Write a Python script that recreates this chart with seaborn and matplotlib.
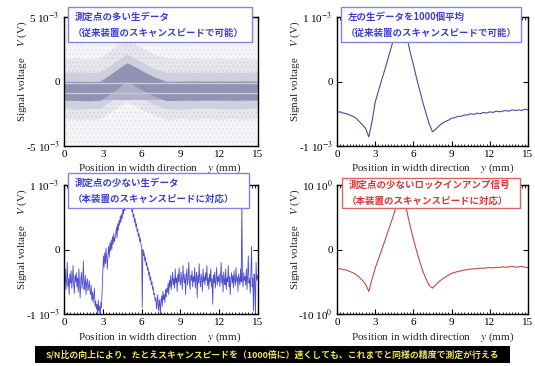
import matplotlib
matplotlib.use("Agg")
import matplotlib.pyplot as plt
import seaborn as sns
from matplotlib.patches import Rectangle
from matplotlib.ticker import MultipleLocator

# ---- data ----
x_ticks = [0, 3, 6, 9, 12, 15]

# top-left: dense raw cloud, envelopes in 1e-3 V
tl_x = [0, 1, 2, 2.8, 3.5, 4.2, 4.85, 5.5, 6.2, 7.0, 7.9, 9, 10, 11, 12, 13, 14, 15]
tl_core_hi = [0.02, 0.03, 0.0, 0.03, 0.5, 1.0, 1.45, 1.15, 0.75, 0.35, 0.02, 0.03, 0.05, 0.03, 0.04, 0.03, 0.05, 0.03]
tl_core_lo = [-1.45, -1.47, -1.5, -1.45, -1.0, -0.5, 0.0, -0.35, -0.75, -1.15, -1.48, -1.45, -1.46, -1.44, -1.45, -1.46, -1.44, -1.45]
tl_mid_hi = [0.7, 0.75, 0.7, 0.75, 1.2, 1.7, 2.1, 1.8, 1.4, 1.0, 0.7, 0.75, 0.7, 0.75, 0.7, 0.75, 0.7, 0.75]
tl_mid_lo = [-2.1, -2.15, -2.1, -2.05, -1.6, -1.1, -0.7, -1.0, -1.4, -1.8, -2.1, -2.15, -2.1, -2.05, -2.1, -2.15, -2.1, -2.05]
tl_cloud_hi = [1.7, 1.8, 1.7, 1.8, 2.3, 2.8, 3.2, 2.9, 2.5, 2.1, 1.8, 1.7, 1.8, 1.7, 1.8, 1.7, 1.8, 1.7]
tl_cloud_lo = [-2.9, -3.0, -3.0, -2.9, -2.5, -2.0, -1.6, -1.9, -2.3, -2.6, -3.0, -2.9, -3.0, -2.9, -3.0, -2.9, -3.0, -2.9]
tl_base_x = [0, 15]
tl_base_hi = [0.0, 0.0]
tl_base_lo = [-1.45, -1.45]
tl_stripes = [-0.9, -0.15]

# top-right: averaged data, 1e-3 V, x step 0.25 mm
tr_x = [i * 0.25 for i in range(61)]
tr_y = [-0.48, -0.47, -0.49, -0.50, -0.52, -0.54, -0.57, -0.62, -0.67, -0.73,
        -0.86, -0.62, -0.32, -0.15, 0.02, 0.18, 0.35, 0.52, 0.70, 0.88,
        1.02, 0.85, 0.68, 0.45, 0.26, 0.05, -0.14, -0.33, -0.50, -0.66,
        -0.78, -0.74, -0.69, -0.65, -0.62, -0.60, -0.57, -0.56, -0.54, -0.54,
        -0.52, -0.52, -0.50, -0.51, -0.49, -0.50, -0.48, -0.49, -0.47, -0.48,
        -0.46, -0.47, -0.46, -0.45, -0.46, -0.44, -0.45, -0.44, -0.45, -0.43,
        -0.44]

# bottom-left: sparse raw data, 1e-3 V, x step 0.05 mm
bl_x = [i * 0.05 for i in range(301)]
bl_y = [
    -0.42, -0.55, -0.30, -0.62, -0.48, -0.20, -0.58, -0.45, -0.70, -0.38, -0.52, -0.33, -0.60, -0.47, -0.25, -0.55, -0.68, -0.40, -0.50, -0.36,
    -0.58, -0.44, -0.66, -0.30, -0.52, -0.75, -0.46, -0.35, -0.60, -0.49, -0.18, -0.62, -0.55, -0.40, -0.70, -0.52, -0.45, -0.64, -0.58, -0.48,
    -0.62, -0.70, -0.55, -0.78, -0.66, -0.82, -0.72, -0.60, -0.88, -0.80, -0.92, -0.85, -1.05, -0.78, -0.95, -0.88, -1.10, -0.82, -0.90, -0.60,
    -0.35, -0.10, -0.28, -0.05, -0.22, 0.02, -0.15, -0.30, -0.08, 0.05, -0.12, 0.10, -0.02, 0.15, 0.00, 0.20, 0.08, 0.25, 0.12, 0.18,
    0.22, 0.35, 0.18, 0.40, 0.30, 0.45, 0.38, 0.52, 0.42, 0.55, 0.48, 0.62, 0.55, 0.70, 0.60, 0.75, 0.68, 0.82, 0.72, 0.85,
    0.80, 0.72, 0.78, 0.65, 0.70, 0.58, 0.62, 0.50, 0.55, 0.42, 0.48, 0.35, 0.40, 0.28, 0.32, 0.20, 0.25, 0.12, 0.18, 0.08,
    0.05, -0.90, 0.00, -0.10, -0.05, -0.18, -0.12, -0.25, -0.20, -0.32, -0.28, -0.40, -0.35, -0.48, -0.42, -0.55, -0.50, -0.62, -0.58, -0.70,
    -0.68, -0.80, -0.75, -0.92, -0.82, -0.70, -0.95, -0.85, -0.78, -1.05, -0.80, -0.72, -0.88, -0.65, -0.78, -0.70, -0.82, -0.62, -0.74, -0.60,
    -0.66, -0.52, -0.70, -0.48, -0.58, -0.40, -0.62, -0.50, -0.35, -0.55, -0.45, -0.60, -0.30, -0.52, -0.44, -0.65, -0.38, -0.50, -0.28, -0.48,
    -0.55, -0.35, -0.48, -0.62, -0.25, -0.45, -0.52, -0.38, -0.70, -0.42, -0.30, -0.55, -0.46, -0.20, -0.50, -0.62, -0.40, -0.48, -0.33, -0.58,
    -0.42, -0.50, -0.28, -0.60, -0.45, -0.35, -0.75, -0.40, -0.52, -0.22, -0.48, -0.58, -0.38, -0.46, -0.65, -0.30, -0.50, -0.42, -0.55, -0.36,
    -0.48, -0.25, -0.56, -0.44, -0.62, -0.38, -0.50, -0.30, -0.58, -0.45, -0.85, -0.40, -0.52, -0.35, -0.60, -0.47, -0.28, -0.55, -0.42, -0.50,
    -0.38, -0.58, -0.45, -0.20, -0.52, -0.40, -0.66, -0.35, -0.48, -0.55, -0.30, -0.62, -0.44, -0.50, -0.25, -0.58, -0.42, -0.70, -0.46, -0.36,
    -0.52, -0.40, -0.60, -0.33, -0.48, -0.56, -0.28, -0.50, -0.42, -0.65, -0.38, -0.46, -0.55, -0.30, -0.50, 0.75, -0.45, -0.58, -0.36, -0.48,
    -0.42, -0.55, -0.30, -0.62, -0.40, -0.10, -0.52, -0.45, -0.68, -0.35, 0.05, -0.58, -0.44, -0.95, -0.38, -0.50, -1.05, -0.20, -0.48, -0.40,
    -0.45,
]

# bottom-right: lock-in amplifier output, x step 0.25 mm
br_x = [i * 0.25 for i in range(61)]
br_y = [-3.0, -3.0, -3.1, -3.2, -3.4, -3.6, -3.9, -4.3, -4.8, -5.4,
        -6.5, -4.6, -2.9, -1.5, -0.1, 1.3, 2.8, 4.2, 5.7, 7.3,
        9.0, 7.6, 5.8, 3.6, 1.6, -0.2, -1.9, -3.4, -4.6, -5.6,
        -6.0, -5.5, -5.0, -4.6, -4.3, -4.0, -3.7, -3.55, -3.4, -3.3,
        -3.2, -3.1, -3.05, -3.0, -2.95, -2.9, -2.9, -2.85, -2.8, -2.85,
        -2.75, -2.8, -2.7, -2.75, -2.7, -2.6, -2.75, -2.7, -2.6, -2.75,
        -2.8]

tl_yticklabels = [r"-5 10$^{-3}$", "0", r"5 10$^{-3}$"]
tr_yticklabels = [r"-1 10$^{-3}$", "0", r"1 10$^{-3}$"]
bl_yticklabels = [r"-1 10$^{-3}$", "0", r"1 10$^{-3}$"]
br_yticklabels = [r"-10 10$^{0}$", "0", r"10 10$^{0}$"]

boxes = [
    ("測定点の多い生データ", "（従来装置のスキャンスピードで可能）"),
    ("左の生データを1000個平均", "（従来装置のスキャンスピードで可能）"),
    ("測定点の少ない生データ", "（本装置のスキャンスピードに対応）"),
    ("測定点の少ないロックインアンプ信号", "（本装置のスキャンスピードに対応）"),
]
banner = "S/N比の向上により、たとえスキャンスピードを（1000倍に）速くしても、これまでと同様の精度で測定が行える"

# ---- style ----
sns.set_style("ticks")
plt.rcParams["font.family"] = ["Liberation Serif", "DejaVu Serif"]
plt.rcParams["mathtext.fontset"] = "stix"
plt.rcParams["hatch.linewidth"] = 0.5
cjk = ["Noto Sans CJK JP", "DejaVu Sans"]

W, H = 535, 366
fig = plt.figure(figsize=(W / 100, H / 100), dpi=100)
fig.patch.set_facecolor("white")


def axes_px(left, top, right, bottom):
    return fig.add_axes([left / W, 1 - bottom / H, (right - left) / W, (bottom - top) / H])


def fx(x):
    return x / W


def fy(y):
    return 1 - y / H


def style_axes(ax, ylim, labels):
    ax.set_xlim(0, 15)
    ax.set_ylim(*ylim)
    ax.set_xticks(x_ticks)
    ax.set_xticklabels([str(t) for t in x_ticks])
    ax.set_yticks([ylim[0], 0, ylim[1]])
    ax.set_yticklabels(labels)
    ax.xaxis.set_minor_locator(MultipleLocator(0.25))
    ax.tick_params(which="major", direction="in", top=True, right=True,
                   length=3.5, width=0.8, labelsize=8, pad=3, colors="black")
    ax.tick_params(which="minor", direction="in", top=True, right=False, left=False,
                   length=1.8, width=0.7)
    for s in ax.spines.values():
        s.set_linewidth(1.0)
        s.set_color("black")
    ax.set_xlabel("")
    ax.set_ylabel("")


RIGHT = 528

# top-left
ax1 = axes_px(64, 17, 258, 146)
ax1.fill_between([0, 15], [-5, -5], [5, 5], facecolor="#f5f5f7", edgecolor="#e0e0e6",
                 hatch="....", linewidth=0)
ax1.fill_between(tl_x, tl_cloud_lo, tl_cloud_hi, facecolor="#e6e6ec", edgecolor="#d0d0da",
                 hatch="....", linewidth=0)
ax1.fill_between(tl_x, tl_mid_lo, tl_mid_hi, facecolor="#cfcfdd", linewidth=0)
ax1.fill_between(tl_base_x, tl_base_lo, tl_base_hi, facecolor="#b0b0c8", linewidth=0)
ax1.fill_between(tl_x, tl_core_lo, tl_core_hi, facecolor="#9292b4", linewidth=0)
for s in tl_stripes:
    ax1.axhline(s, color="#c8c8dc", lw=1.0)
style_axes(ax1, (-5, 5), tl_yticklabels)

# top-right
ax2 = axes_px(337, 17, RIGHT, 146)
sns.lineplot(x=tr_x, y=tr_y, ax=ax2, color="#4a4aa0", linewidth=0.8, estimator=None)
style_axes(ax2, (-1, 1), tr_yticklabels)

# bottom-left
ax3 = axes_px(64, 185, 258, 314)
sns.lineplot(x=bl_x, y=bl_y, ax=ax3, color="#2e2ec4", linewidth=0.6, alpha=0.85, estimator=None)
style_axes(ax3, (-1, 1), bl_yticklabels)

# bottom-right
ax4 = axes_px(337, 185, RIGHT, 314)
sns.lineplot(x=br_x, y=br_y, ax=ax4, color="#c84848", linewidth=0.8, estimator=None)
style_axes(ax4, (-10, 10), br_yticklabels)

# axis titles as figure text
for (cx, cy) in [(22, 71), (295, 71), (22, 239), (295, 239)]:
    fig.text(fx(cx), fy(cy), r"Signal voltage    $V$ (V)", rotation=90,
             ha="center", va="center", fontsize=8)
for (cx, cy) in [(160, 168), (433, 168), (160, 337), (433, 337)]:
    fig.text(fx(cx), fy(cy), r"Position in width direction    $y$ (mm)",
             ha="center", va="center", fontsize=8)

# annotation boxes
box_geom = [(68, 7, 252, 42), (341, 7, 521, 42), (68, 173, 249, 208), (342, 178, 520, 208)]
box_edge = ["#8484e0", "#8484e0", "#8484e0", "#e06464"]
box_text = ["#3c3cd4", "#3c3cd4", "#3c3cd4", "#d83434"]
for (l, t, r, b), (l1, l2), ec, tc in zip(box_geom, boxes, box_edge, box_text):
    fig.patches.append(Rectangle((fx(l), fy(b)), (r - l) / W, (b - t) / H,
                                 transform=fig.transFigure, facecolor="white",
                                 edgecolor=ec, linewidth=1.0, zorder=5))
    ym = (t + b) / 2
    fig.text(fx(l + 7), fy(ym - 8), l1, family=cjk, fontsize=6.8, fontweight="bold",
             color=tc, ha="left", va="center", zorder=6)
    fig.text(fx(l + 5), fy(ym + 8), l2, family=cjk, fontsize=6.8, fontweight="bold",
             color=tc, ha="left", va="center", zorder=6)

# bottom banner
fig.patches.append(Rectangle((fx(35), fy(363)), 475 / W, 17 / H, transform=fig.transFigure,
                             facecolor="black", edgecolor="none", zorder=5))
fig.text(fx(272), fy(354.5), banner, family=cjk, fontsize=6.4, fontweight="bold",
         color="#ece658", ha="center", va="center", zorder=6)

fig.savefig("out.png", dpi=100)
plt.close(fig)
